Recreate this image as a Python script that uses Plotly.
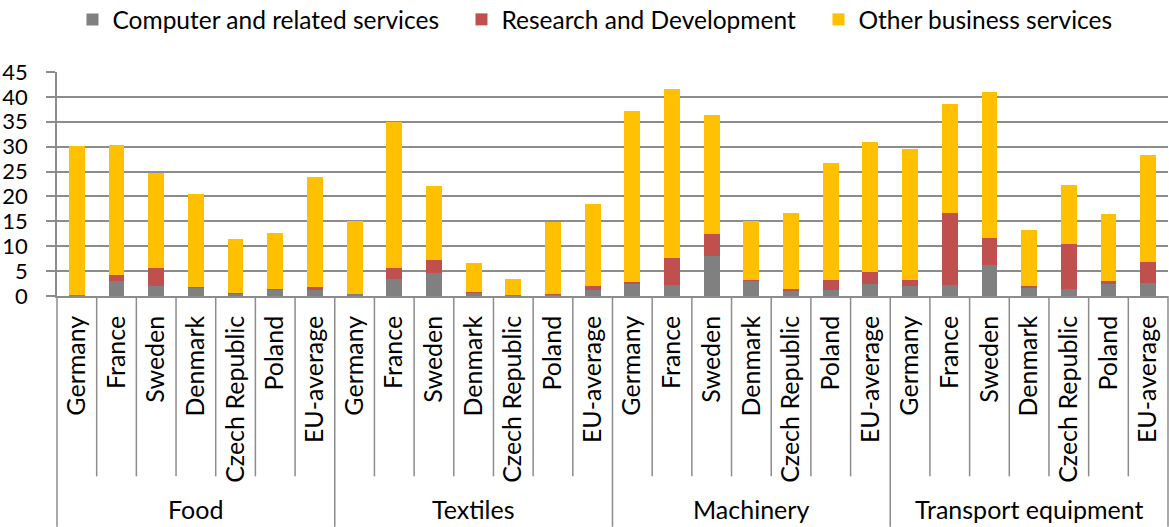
import plotly.graph_objects as go

# Service inputs (share, %) by manufacturing sector and country
sectors = ["Food", "Textiles", "Machinery", "Transport equipment"]
countries = ["Germany", "France", "Sweden", "Denmark", "Czech Republic", "Poland", "EU-average"]

computer_services = [0.3, 3.0, 2.0, 1.8, 0.6, 1.3, 1.2,
                     0.4, 3.4, 4.6, 0.7, 0.3, 0.35, 1.2,
                     2.6, 2.2, 8.0, 3.1, 1.1, 1.3, 2.4,
                     2.0, 2.2, 6.3, 1.8, 1.5, 2.4, 2.6]
research_dev = [0.0, 1.2, 3.6, 0.1, 0.05, 0.1, 0.7,
                0.0, 2.2, 2.7, 0.05, 0.0, 0.1, 0.9,
                0.2, 5.4, 4.5, 0.1, 0.4, 1.9, 2.4,
                1.3, 14.5, 5.4, 0.15, 9.0, 0.7, 4.25]
other_business = [29.8, 26.2, 19.2, 18.5, 10.85, 11.35, 22.1,
                  14.7, 29.3, 14.8, 5.85, 3.2, 14.35, 16.4,
                  34.4, 33.9, 23.8, 11.8, 15.2, 23.6, 26.2,
                  26.2, 21.8, 29.2, 11.25, 11.8, 13.3, 21.45]

series_names = ["Computer and related services", "Research and Development", "Other business services"]
series_colors = ["#808080", "#C0504D", "#FFC000"]
legend_widths = [344, 312, 260]

FONT = "Lato"
GRID = "#8c8c8c"

n_per = len(countries)
positions = list(range(len(sectors) * n_per))
tick_text = countries * len(sectors)

fig = go.Figure()
for name, vals, col, lw in zip(series_names,
                               [computer_services, research_dev, other_business],
                               series_colors, legend_widths):
    fig.add_trace(go.Bar(
        x=positions, y=vals, name=name, width=0.4,
        marker=dict(color=col, line=dict(width=0)),
        legendwidth=lw,
    ))

# category separators below the axis: short between countries, long between sectors
shapes = []
for i in range(1, len(positions)):
    is_group = i % n_per == 0
    shapes.append(dict(type="line", xref="x", yref="paper",
                       x0=i - 0.5, x1=i - 0.5, y0=0, y1=-1.03 if is_group else -0.805,
                       line=dict(color=GRID, width=1.5)))
for xd in (0, 1):
    shapes.append(dict(type="line", xref="x domain", yref="paper",
                       x0=xd, x1=xd, y0=0, y1=-1.03,
                       line=dict(color=GRID, width=1.5)))

annotations = []
for g, sec in enumerate(sectors):
    annotations.append(dict(x=g * n_per + (n_per - 1) / 2, xref="x", y=-0.952, yref="paper",
                            text=sec, showarrow=False, yanchor="middle",
                            font=dict(family=FONT, size=25, color="black")))

fig.update_layout(
    width=1169, height=527,
    margin=dict(l=57, r=1, t=71.5, b=231, autoexpand=False),
    paper_bgcolor="white", plot_bgcolor="white",
    barmode="stack", bargap=0,
    font=dict(family=FONT, size=23, color="black"),
    showlegend=True,
    legend=dict(orientation="h", xref="container", yref="paper",
                x=0.062, y=1.335, xanchor="left", yanchor="top",
                traceorder="normal", font=dict(family=FONT, size=24.5, color="black")),
    shapes=shapes,
    annotations=annotations,
)
fig.update_xaxes(
    range=[-0.5, len(positions) - 0.5],
    tickmode="array", tickvals=positions, ticktext=tick_text,
    tickangle=-90, ticks="", ticklabelstandoff=8,
    tickfont=dict(family=FONT, size=25, color="black"),
    showline=True, linecolor=GRID, linewidth=1.5,
    showgrid=False, zeroline=False, automargin=False,
)
fig.update_yaxes(
    range=[0, 45], tickmode="linear", tick0=0, dtick=5,
    ticks="outside", ticklen=9, tickwidth=1.5, tickcolor=GRID,
    ticklabelstandoff=14,
    tickfont=dict(family=FONT, size=22, color="black"),
    showgrid=True, gridcolor=GRID, gridwidth=1.5,
    showline=True, linecolor=GRID, linewidth=1.5,
    zeroline=False, automargin=False,
)

fig.write_html("out.html")
